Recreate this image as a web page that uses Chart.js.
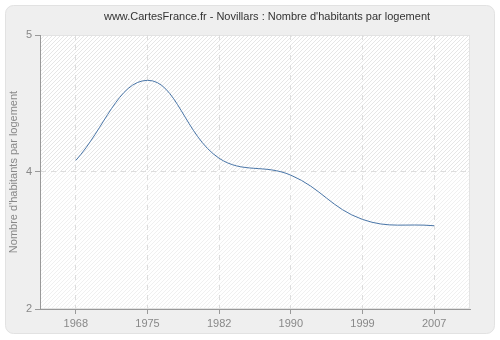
<!DOCTYPE html>
<html>
<head>
<meta charset="utf-8">
<script src="https://cdn.jsdelivr.net/npm/chart.js@4/dist/chart.umd.min.js"></script>
<style>
  html, body { margin: 0; padding: 0; background: #fff; }
  #wrap { width: 500px; height: 340px; }
</style>
</head>
<body>
<div id="wrap"><canvas id="chart" width="500" height="340"></canvas></div>
<script>
var years = ['1968', '1975', '1982', '1990', '1999', '2007'];
var habitantsParLogement = [3.81, 4.57, 3.83, 3.67, 3.25, 3.19];
var yTicks = [2.4, 3.7, 5];
var titleText = "www.CartesFrance.fr - Novillars : Nombre d'habitants par logement";
var yTitle = "Nombre d'habitants par logement";

var FONT = "'Liberation Sans', Arial, sans-serif";

function hatch(color) {
  var c = document.createElement('canvas');
  c.width = 4; c.height = 4;
  var g = c.getContext('2d');
  g.fillStyle = '#ffffff';
  g.fillRect(0, 0, 4, 4);
  g.strokeStyle = color;
  g.lineWidth = 1;
  g.beginPath();
  g.moveTo(0, 4); g.lineTo(4, 0);
  g.moveTo(-1, 1); g.lineTo(1, -1);
  g.moveTo(3, 5); g.lineTo(5, 3);
  g.stroke();
  return g.createPattern(c, 'repeat');
}

// panel background, hatched plot area and title
var backdrop = {
  id: 'backdrop',
  beforeDraw: function (chart) {
    var ctx = chart.ctx;
    var a = chart.chartArea;
    ctx.save();
    ctx.fillStyle = '#ffffff';
    ctx.fillRect(0, 0, chart.width, chart.height);
    ctx.beginPath();
    ctx.roundRect(5.5, 5.5, 489, 328, 8);
    ctx.fillStyle = '#efefef';
    ctx.fill();
    ctx.strokeStyle = '#e2e2e2';
    ctx.lineWidth = 1;
    ctx.stroke();

    var mid = chart.scales.y.getPixelForValue(yTicks[1]);
    ctx.fillStyle = hatch('#e6e6e6');
    ctx.fillRect(a.left, a.top, a.right - a.left, mid - a.top);
    ctx.fillStyle = hatch('#f0f0f0');
    ctx.fillRect(a.left, mid, a.right - a.left, a.bottom - mid);
    ctx.strokeStyle = '#e3e3e3';
    ctx.strokeRect(a.left + 0.5, a.top + 0.5, a.right - a.left - 1, a.bottom - a.top - 1);

    ctx.fillStyle = '#333333';
    ctx.font = '11px ' + FONT;
    ctx.textAlign = 'center';
    ctx.textBaseline = 'middle';
    ctx.fillText(titleText, 267, 17);
    ctx.restore();
  }
};

var ctx = document.getElementById('chart').getContext('2d');
var chart = new Chart(ctx, {
  type: 'line',
  data: {
    labels: years,
    datasets: [{
      data: habitantsParLogement,
      borderColor: '#4a76a8',
      borderWidth: 1,
      pointRadius: 0,
      fill: false,
      tension: 0.4
    }]
  },
  options: {
    responsive: false,
    animation: false,
    events: [],
    layout: { padding: { left: 0, top: 35, right: 30, bottom: 0 } },
    plugins: { legend: { display: false }, tooltip: { enabled: false }, title: { display: false } },
    scales: {
      x: {
        type: 'category',
        offset: true,
        afterFit: function (s) { s.height = 31; },
        grid: {
          color: '#dddddd',
          offset: false,
          drawTicks: true,
          tickLength: 5,
          tickColor: '#999999'
        },
        border: { color: '#999999', width: 1, dash: [5, 5] },
        ticks: { color: '#888888', font: { family: FONT, size: 11 }, padding: 3, maxRotation: 0 }
      },
      y: {
        min: yTicks[0],
        max: yTicks[2],
        afterFit: function (s) { s.width = 40; },
        afterBuildTicks: function (s) {
          s.ticks = yTicks.map(function (v) { return { value: v }; });
        },
        grid: {
          color: function (c) { return c.index === 1 ? '#dddddd' : 'rgba(0,0,0,0)'; },
          tickColor: '#999999',
          tickLength: 5
        },
        border: { color: '#999999', width: 1, dash: [5, 5] },
        ticks: {
          color: '#888888',
          font: { family: FONT, size: 11 },
          padding: 3,
          callback: function (v) { return Math.round(v); }
        },
        title: {
          display: true,
          text: yTitle,
          color: '#888888',
          font: { family: FONT, size: 11 },
          padding: { top: 7, bottom: 0 }
        }
      }
    }
  },
  plugins: [backdrop]
});
</script>
</body>
</html>
